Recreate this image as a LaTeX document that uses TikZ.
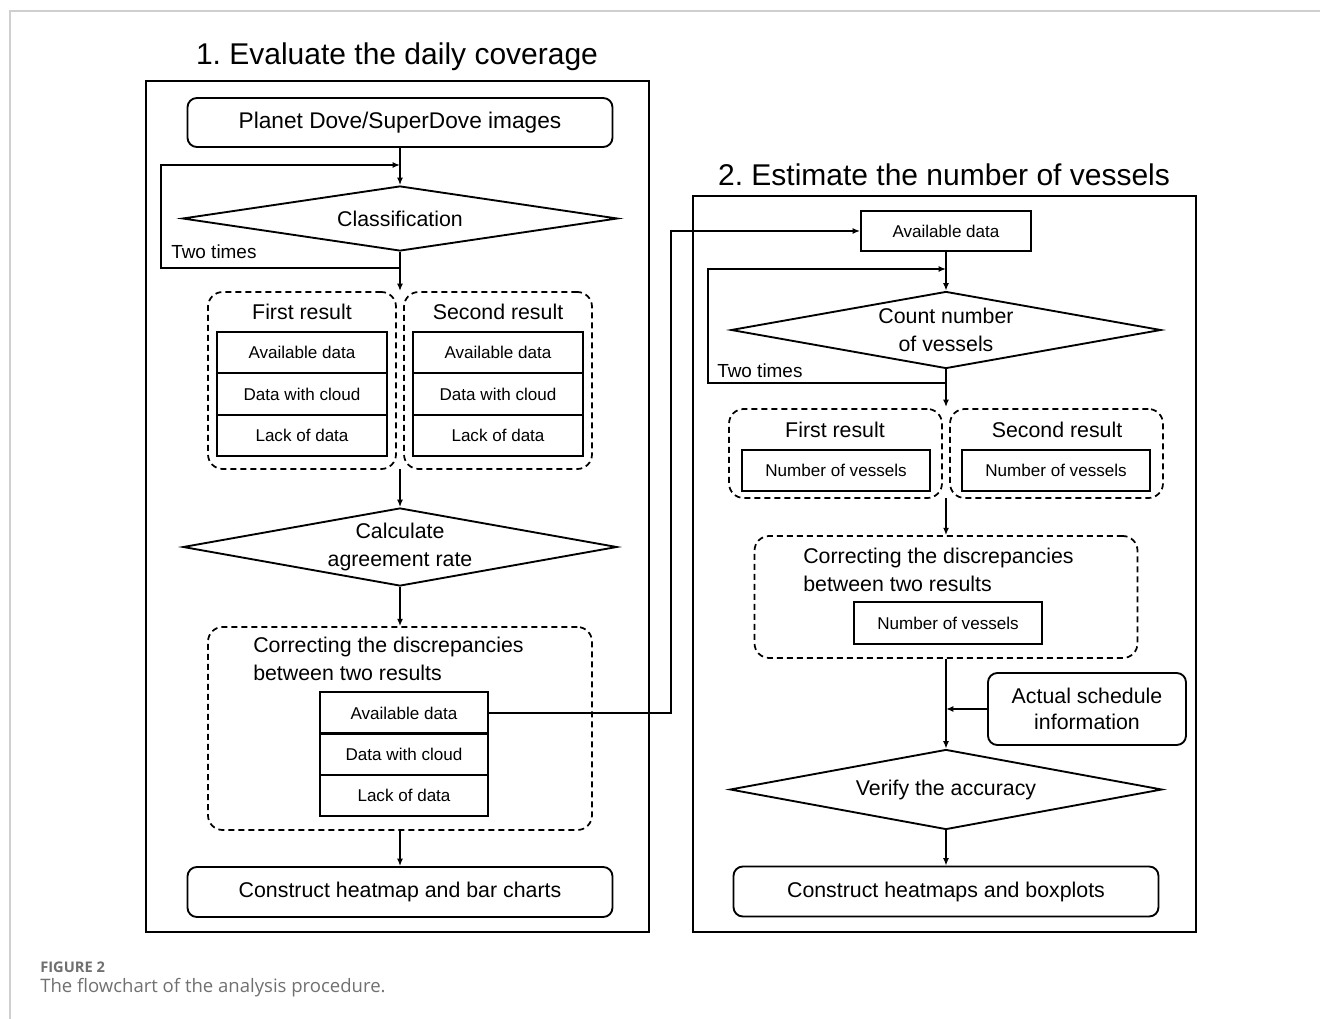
\documentclass[tikz,border=0pt]{standalone}
\usepackage{fontspec}
\setmainfont{Liberation Sans}
\newfontfamily\capfont{Open Sans}
\usetikzlibrary{shapes.geometric,arrows.meta}
\definecolor{capgray}{HTML}{707070}
\definecolor{rulegray}{HTML}{CFCFCF}
\frenchspacing
\begin{document}
\begin{tikzpicture}[x=0.75pt,y=-0.75pt,
  wh/.style 2 args={minimum width=#1*0.75pt, minimum height=#2*0.75pt},
  panel/.style={draw, line width=1.8pt, inner sep=0pt},
  rbox/.style={draw, line width=1.4pt, rounded corners=7pt, inner sep=0pt, font=\fontsize{16}{20}\selectfont, align=center},
  cell/.style={draw, line width=1.4pt, inner sep=0pt, font=\fontsize{12.8}{15}\selectfont},
  grp/.style={draw, line width=1.3pt, dash pattern=on 4.5pt off 3pt, rounded corners=11pt, inner sep=0pt},
  dia/.style={draw, diamond, line width=1.4pt, inner sep=0pt, aspect=6},
  mtext/.style={font=\fontsize{16}{21}\selectfont, inner sep=0pt},
  ttext/.style={font=\fontsize{22.5}{27}\selectfont, inner sep=0pt},
  arr/.style={line width=1.5pt, -{Latex[length=5.5pt,width=4.5pt]}},
  ln/.style={line width=1.5pt},
]
\useasboundingbox (0,0) rectangle (1320,1019);
\draw[rulegray, line width=0.8pt] (10,1019) -- (10,11) -- (1320,11);

% panels
\node[panel, wh={503}{851}] (panelA) at (397.5,506.5) {};
\node[panel, wh={503}{736}] (panelB) at (944.5,564) {};
\node[ttext] (tA) at (397,57) {1. Evaluate the daily coverage};
\node[ttext] (tB) at (944,175) {2. Estimate the number of vessels};

% ---- left panel
\node[rbox, wh={425}{49}, font=\fontsize{17}{20}\selectfont] (pl) at (400,122.5) {Planet Dove/SuperDove images};
\node[dia, wh={435}{65}, label={[mtext]center:Classification}] (cls) at (400,218.5) {};
\coordinate (jA) at (400,268);
\coordinate (jAt) at (400,165);
\draw[arr] (pl.south) -- (cls.north);
\draw[ln] (cls.south) -- (jA);
\draw[arr] (jA) -- ++(-239,0) |- (jAt);
\node[anchor=west, font=\fontsize{14.2}{16}\selectfont, inner sep=0pt] (twA) at (171,252) {Two times};

\node[grp, wh={188}{177}] (g1) at (302,380.5) {};
\node[grp, wh={188}{177}] (g2) at (498,380.5) {};
\coordinate (gA) at (400,291);
\draw[arr] (jA) -- (gA);
\node[mtext] (g1t) at (302,312) {First result};
\node[mtext] (g2t) at (498,312) {Second result};
\node[cell, wh={170}{41.5}] (g1a) at (302,352.5) {Available data};
\node[cell, wh={170}{41.5}] (g1b) at (302,394) {Data with cloud};
\node[cell, wh={170}{41.5}] (g1c) at (302,435.5) {Lack of data};
\node[cell, wh={170}{41.5}] (g2a) at (498,352.5) {Available data};
\node[cell, wh={170}{41.5}] (g2b) at (498,394) {Data with cloud};
\node[cell, wh={170}{41.5}] (g2c) at (498,435.5) {Lack of data};

\coordinate (gAb) at (400,469);
\node[dia, wh={434}{78}, label={[mtext,align=center]center:Calculate\\agreement rate}] (cal) at (400,547) {};
\draw[arr] (gAb) -- (cal.north);
\node[grp, wh={384}{203}] (cor) at (400,728.5) {};
\draw[arr] (cal.south) -- (cor.north);
\node[mtext, anchor=west, align=left] (cort) at (253,659) {Correcting the discrepancies\\between two results};
\node[cell, wh={168}{41.5}] (c1) at (404,713) {Available data};
\node[cell, wh={168}{41.5}] (c2) at (404,754) {Data with cloud};
\node[cell, wh={168}{41.5}] (c3) at (404,795.5) {Lack of data};
\node[rbox, wh={425}{50}] (bA) at (400,892) {Construct heatmap and bar charts};
\draw[arr] (cor.south) -- (bA.north);

% ---- right panel
\node[cell, wh={170}{40}] (ad) at (946,231) {Available data};
\draw[arr] (c1.east) -- ++(182,0) |- (ad.west);
\node[dia, wh={430}{77}, label={[mtext,align=center]center:Count number\\of vessels}] (cnt) at (946,330) {};
\coordinate (jBt) at (946,269);
\draw[arr] (ad.south) -- (cnt.north);
\coordinate (jB) at (946,383);
\draw[ln] (cnt.south) -- (jB);
\draw[arr] (jB) -- ++(-238,0) |- (jBt);
\node[anchor=west, font=\fontsize{14.2}{16}\selectfont, inner sep=0pt] (twB) at (717,371) {Two times};

\node[grp, wh={213}{89}] (h1) at (835.5,453.5) {};
\node[grp, wh={213}{89}] (h2) at (1056.5,453.5) {};
\coordinate (gB) at (946,407);
\draw[arr] (jB) -- (gB);
\node[mtext] (h1t) at (835,430) {First result};
\node[mtext] (h2t) at (1057,430) {Second result};
\node[cell, wh={188}{41}] (h1n) at (836,470.5) {Number of vessels};
\node[cell, wh={188}{41}] (h2n) at (1056,470.5) {Number of vessels};

\coordinate (gBb) at (946,498);
\node[grp, wh={383}{122}] (cor2) at (946,597) {};
\draw[arr] (gBb) -- (cor2.north);
\node[mtext, anchor=west, align=left] (cor2t) at (803,570) {Correcting the discrepancies\\between two results};
\node[cell, wh={188}{42}] (n2) at (948,623) {Number of vessels};

\node[dia, wh={432}{80}, label={[mtext]center:Verify the accuracy}] (vd) at (946,789.5) {};
\draw[arr] (cor2.south) -- (vd.north);
\node[rbox, wh={198}{72}] (as) at (1087,709) {Actual schedule\\information};
\coordinate (asj) at (946,709);
\draw[arr] (as.west) -- (asj);
\node[rbox, wh={425}{50}] (bB) at (946,891.5) {Construct heatmaps and boxplots};
\draw[arr] (vd.south) -- (bB.north);

% caption
\node[anchor=west, font=\capfont\bfseries\fontsize{11}{13}\selectfont, text=capgray, inner sep=0pt] (cap1) at (40,967) {FIGURE 2};
\node[anchor=west, font=\capfont\fontsize{13.9}{16}\selectfont, text=capgray, inner sep=0pt] (cap2) at (40,988) {The flowchart of the analysis procedure.};
\end{tikzpicture}
\end{document}
